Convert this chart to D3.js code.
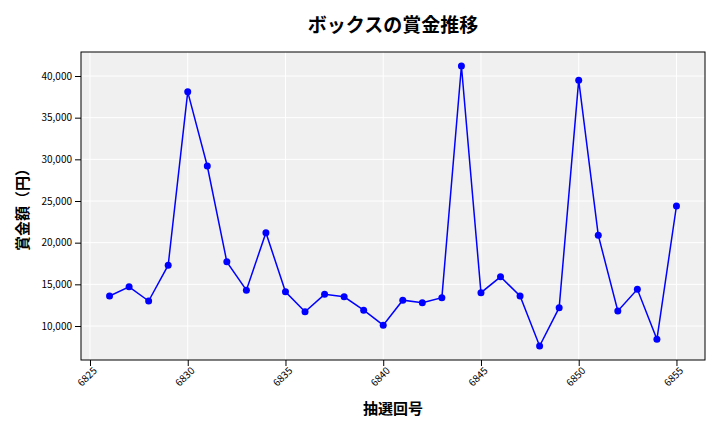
<!DOCTYPE html><html><head><meta charset="utf-8">
<script src="https://cdn.jsdelivr.net/npm/d3@7"></script>
<style>body{margin:0;background:#fff}text{font-family:"Noto Sans CJK JP","Noto Sans",sans-serif}</style></head><body>
<svg id="c" width="720" height="432"></svg>
<script>
const rounds=[6826,6827,6828,6829,6830,6831,6832,6833,6834,6835,6836,6837,6838,6839,6840,6841,6842,6843,6844,6845,6846,6847,6848,6849,6850,6851,6852,6853,6854,6855];
const prizes=[13600,14700,13000,17300,38100,29200,17700,14300,21200,14100,11700,13800,13500,11900,10100,13100,12800,13400,41200,14000,15900,13600,7600,12200,39500,20900,11800,14400,8400,24400];
const xTicks=[6825,6830,6835,6840,6845,6850,6855];
const yTicks=[10000,15000,20000,25000,30000,35000,40000];
const svg=d3.select("#c");
const L=81,R=705,T=52,B=360;
const x=d3.scaleLinear().domain([6824.54,6856.46]).range([L,R]);
const y=d3.scaleLinear().domain([5920,42880]).range([B,T]);
svg.append("rect").attr("x",L).attr("y",T).attr("width",R-L).attr("height",B-T).attr("fill","#f0f0f0");
const g=svg.append("g");
xTicks.forEach(t=>g.append("line").attr("x1",x(t)).attr("x2",x(t)).attr("y1",T).attr("y2",B).attr("stroke","#fff").attr("stroke-width",1));
yTicks.forEach(t=>g.append("line").attr("y1",y(t)).attr("y2",y(t)).attr("x1",L).attr("x2",R).attr("stroke","#fff").attr("stroke-width",1));
const xa=svg.append("g").attr("transform",`translate(0,${B})`).call(d3.axisBottom(x).tickValues(xTicks).tickFormat(d3.format("d")).tickSizeOuter(0));
xa.selectAll("text").attr("transform","rotate(-45)").attr("text-anchor","end").attr("dx","-0.3em").attr("dy","0.4em").style("font-size","10px");
const ya=svg.append("g").attr("transform",`translate(${L},0)`).call(d3.axisLeft(y).tickValues(yTicks).tickFormat(d3.format(",")).tickSizeOuter(0));
ya.selectAll("text").style("font-size","10px");
svg.selectAll(".domain").remove();
svg.append("rect").attr("x",L).attr("y",T).attr("width",R-L).attr("height",B-T).attr("fill","none").attr("stroke","#000");
const data=rounds.map((r,i)=>[r,prizes[i]]);
svg.append("path").datum(data).attr("d",d3.line().x(d=>x(d[0])).y(d=>y(d[1]))).attr("fill","none").attr("stroke","#0000ff").attr("stroke-width",1.5);
svg.selectAll("circle.p").data(data).enter().append("circle").attr("cx",d=>x(d[0])).attr("cy",d=>y(d[1])).attr("r",3.5).attr("fill","#0000ff");
svg.append("text").attr("x",393).attr("y",32).attr("text-anchor","middle").style("font-size","19px").style("font-weight","bold").text("ボックスの賞金推移");
svg.append("text").attr("x",393).attr("y",414).attr("text-anchor","middle").style("font-size","15px").style("font-weight","bold").text("抽選回号");
svg.append("text").attr("transform","translate(28,206) rotate(-90)").attr("text-anchor","middle").style("font-size","15px").style("font-weight","bold").text("賞金額（円）");
</script></body></html>
